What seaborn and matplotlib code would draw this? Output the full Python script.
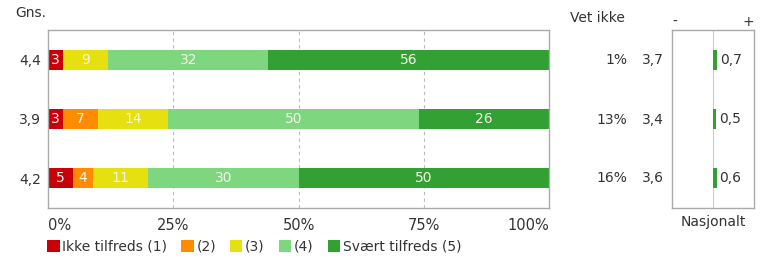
import matplotlib
matplotlib.use("Agg")
import matplotlib.pyplot as plt
import seaborn as sns
import numpy as np
import pandas as pd
from matplotlib.patches import Patch

sns.set_theme(style="white")
plt.rcParams['font.family'] = ['DejaVu Sans']

rows = ["A", "B", "C"]
gns = ["4,4", "3,9", "4,2"]
lvl1 = [3, 3, 5]
lvl2 = [0, 7, 4]
lvl3 = [9, 14, 11]
lvl4 = [32, 50, 30]
lvl5 = [56, 26, 50]
vet_ikke = ["1%", "13%", "16%"]
nasjonal = ["3,7", "3,4", "3,6"]
diff = [0.7, 0.5, 0.6]
diff_labels = ["0,7", "0,5", "0,6"]
level_names = ["Ikke tilfreds (1)", "(2)", "(3)", "(4)", "Svært tilfreds (5)"]
colors = ["#C8000A", "#FF8C00", "#E6E010", "#7ED67E", "#33A033"]
xticks = [0, 25, 50, 75, 100]
xticklabels = ["0%", "25%", "50%", "75%", "100%"]

levels = [lvl1, lvl2, lvl3, lvl4, lvl5]
cum = np.cumsum(np.array(levels), axis=0)

fig = plt.figure(figsize=(7.6, 2.59), dpi=100)
ax = fig.add_axes([48/760, 1-208/259, (549-48)/760, (208-30)/259])
ax2 = fig.add_axes([672/760, 1-208/259, (754-672)/760, (208-30)/259])

fs = 10
txt = "#333333"
for i in range(4, -1, -1):
    df = pd.DataFrame({"row": rows, "val": cum[i]})
    sns.barplot(data=df, x="val", y="row", order=rows, color=colors[i],
                orient="h", width=0.34, ax=ax, saturation=1, linewidth=0)

for r in range(3):
    start = 0
    for i in range(5):
        v = levels[i][r]
        if v > 0:
            ax.text(start + v/2, r, str(v), ha="center", va="center",
                    color="#F4F4E8", fontsize=fs)
        start += v

ax.set_xlim(0, 100)
ax.set_ylim(2.5, -0.5)
ax.set_xticks(xticks)
ax.set_xticklabels(xticklabels, fontsize=10.5, color=txt)
tl = ax.get_xticklabels()
tl[0].set_ha("left")
tl[-1].set_ha("right")
ax.set_yticks(range(3))
ax.set_yticklabels(gns, fontsize=fs, color=txt)
ax.set_xlabel("")
ax.set_ylabel("")
ax.tick_params(axis="x", length=0, pad=7)
ax.tick_params(axis="y", length=0, pad=5)
for x in [25, 50, 75]:
    ax.axvline(x, color="#BBBBBB", linestyle=(0, (3, 3)), linewidth=0.8, zorder=0)
for s in ax.spines.values():
    s.set_color("#AAAAAA")
    s.set_linewidth(1)

# diff panel
df2 = pd.DataFrame({"row": rows, "val": diff})
sns.barplot(data=df2, x="val", y="row", order=rows, color="#33A033",
            orient="h", width=0.34, ax=ax2, saturation=1, linewidth=0)
ax2.set_xlim(-7, 7)
ax2.set_ylim(2.5, -0.5)
ax2.axvline(0, color="#CCCCCC", linewidth=0.8, zorder=0)
ax2.set_xticks([])
ax2.set_yticks([])
ax2.set_xlabel("Nasjonalt", fontsize=fs, color=txt, labelpad=5)
ax2.set_ylabel("")
for s in ax2.spines.values():
    s.set_color("#AAAAAA")
    s.set_linewidth(1)
for r in range(3):
    ax2.text(diff[r] + 0.5, r, diff_labels[r], ha="left", va="center",
             fontsize=fs, color=txt)

# side texts
fig.text(15/760, 1-13/259, "Gns.", fontsize=fs, color=txt, va="center")
fig.text(570/760, 1-18/259, "Vet ikke", fontsize=fs, color=txt, va="center")
fig.text(675/760, 1-22/259, "-", fontsize=fs, color=txt, va="center", ha="center")
fig.text(748/760, 1-22/259, "+", fontsize=fs, color=txt, va="center", ha="center")
row_y = [60, 120, 178]
for r in range(3):
    fig.text(627/760, 1-row_y[r]/259, vet_ikke[r], fontsize=fs, color=txt,
             va="center", ha="right")
    fig.text(642/760, 1-row_y[r]/259, nasjonal[r], fontsize=fs, color=txt,
             va="center", ha="left")

handles = [Patch(facecolor=c, edgecolor="none") for c in colors]
fig.legend(handles, level_names, loc="center left",
           bbox_to_anchor=(47/760, 1-247/259), ncol=5, frameon=False,
           fontsize=fs, handlelength=0.9, handleheight=0.9, handletextpad=0.2,
           columnspacing=1.0, labelcolor=txt, borderaxespad=0, borderpad=0)

fig.savefig("out.png", dpi=100)
